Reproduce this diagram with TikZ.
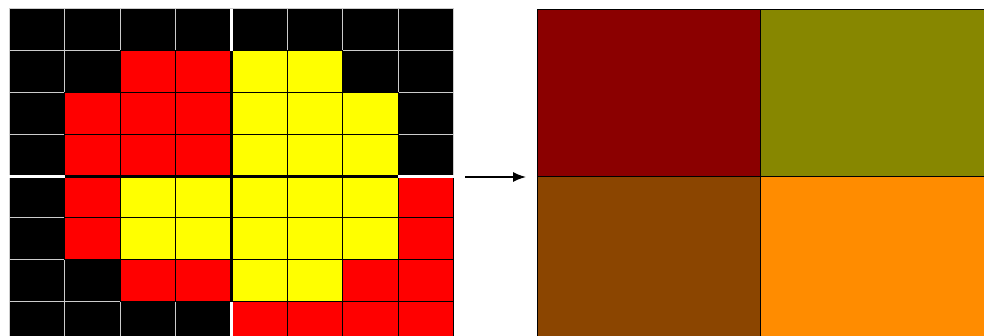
\documentclass[tikz,border=0pt]{standalone}
\usetikzlibrary{arrows.meta}
\definecolor{qTL}{HTML}{8B0000}
\definecolor{qTR}{HTML}{878700}
\definecolor{qBL}{HTML}{8B4500}
\definecolor{qBR}{HTML}{FF8C00}
\definecolor{cellred}{RGB}{255,0,0}
\definecolor{cellyel}{RGB}{255,255,0}
\tikzset{
  p1B/.style={fill=black,draw=white!80!black,line width=1pt},
  p1R/.style={fill=cellred,draw=white!80!black,line width=1pt},
  p1Y/.style={fill=cellyel,draw=white!80!black,line width=1pt},
  p2B/.style={},
  p2R/.style={draw=black,line width=1pt},
  p2Y/.style={draw=black,line width=1pt},
  gapline/.style={draw=white,line width=3pt},
  divline/.style={draw=black,line width=3pt},
  block/.style={draw=black,line width=0.8pt},
  flow/.style={-{Latex[length=13pt,width=10pt]},line width=1.5pt}
}
\begin{document}
\begin{tikzpicture}[x=1pt,y=-1pt]
\useasboundingbox (0,0) rectangle (984,336);
\begin{scope}
\clip (0,0) rectangle (984,336);
\def\cw{55.6}\def\ch{41.8}
\def\grid{{B,B,B,B,B,B,B,B},{B,B,R,R,Y,Y,B,B},{B,R,R,R,Y,Y,Y,B},{B,R,R,R,Y,Y,Y,B},{B,R,Y,Y,Y,Y,Y,R},{B,R,Y,Y,Y,Y,Y,R},{B,B,R,R,Y,Y,R,R},{B,B,B,B,R,R,R,R}}
\foreach \row [count=\r from 0] in \grid {
  \foreach \c [count=\k from 0] in \row {
    \path[p1\c] (9+\k*\cw,9+\r*\ch) rectangle ++(\cw,\ch);
  }
}
\foreach \row [count=\r from 0] in \grid {
  \foreach \c [count=\k from 0] in \row {
    \path[p2\c] (9+\k*\cw,9+\r*\ch) rectangle ++(\cw,\ch);
  }
}
% quadrant separators
\coordinate (vt) at (231.4,9);
\coordinate (v1) at (231.4,50.8);
\coordinate (v7) at (231.4,301.6);
\coordinate (vb) at (231.4,343.4);
\coordinate (hl) at (9,176.2);
\coordinate (h1) at (64.6,176.2);
\coordinate (h7) at (397.8,176.2);
\coordinate (hr) at (453.8,176.2);
\draw[gapline] (vt) -- (v1);
\draw[gapline] (v7) -- (vb);
\draw[gapline] (hl) -- (h1);
\draw[gapline] (h7) -- (hr);
\draw[divline] (v1) -- (v7);
\draw[divline] (h1) -- (h7);
% averaged blocks
\path[block,fill=qTL] (537,9) rectangle (760.5,176.2);
\path[block,fill=qTR] (760.5,9) rectangle (984,176.2);
\path[block,fill=qBL] (537,176.2) rectangle (760.5,343.4);
\path[block,fill=qBR] (760.5,176.2) rectangle (984,343.4);
\end{scope}
\coordinate (arrA) at (465,177);
\coordinate (arrB) at (526,177);
\draw[flow] (arrA) -- (arrB);
\end{tikzpicture}
\end{document}
